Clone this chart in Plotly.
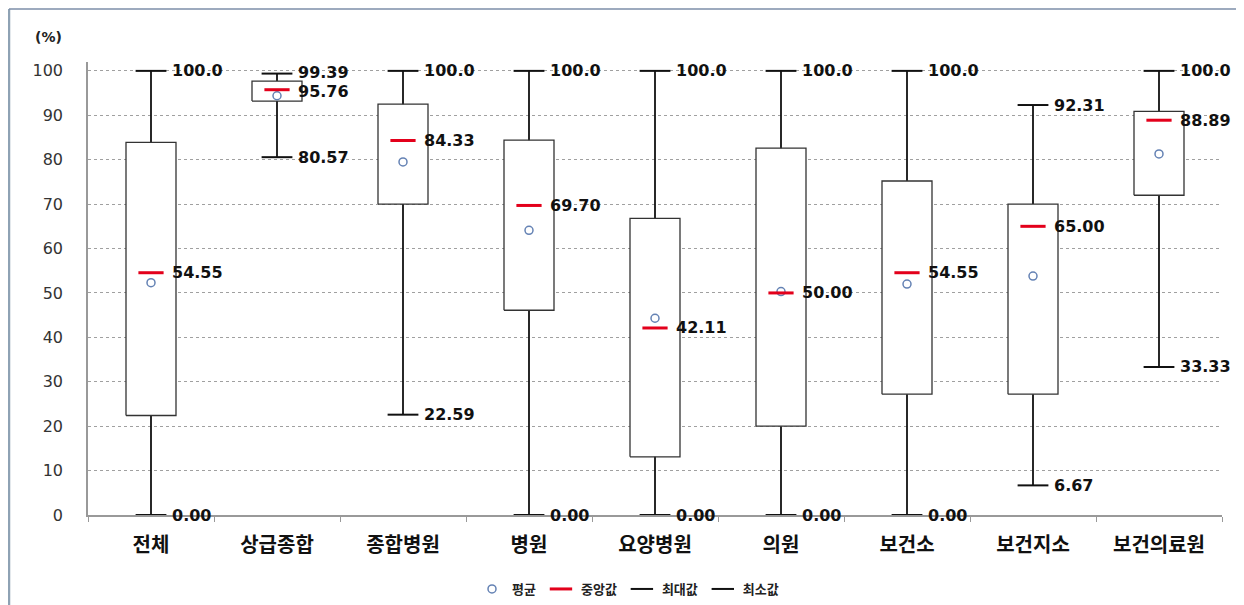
import plotly.graph_objects as go

categories = ["전체", "상급종합", "종합병원", "병원", "요양병원", "의원", "보건소", "보건지소", "보건의료원"]
max_vals = [100.0, 99.39, 100.0, 100.0, 100.0, 100.0, 100.0, 92.31, 100.0]
q3_vals = [83.9, 97.7, 92.5, 84.4, 66.8, 82.6, 75.2, 70.0, 90.9]
median_vals = [54.55, 95.76, 84.33, 69.70, 42.11, 50.00, 54.55, 65.00, 88.89]
mean_vals = [52.3, 94.4, 79.5, 64.1, 44.3, 50.3, 52.0, 53.8, 81.3]
q1_vals = [22.4, 93.2, 70.0, 46.1, 13.1, 20.0, 27.2, 27.2, 72.0]
min_vals = [0.0, 80.57, 22.59, 0.0, 0.0, 0.0, 0.0, 6.67, 33.33]
y_ticks = [0, 10, 20, 30, 40, 50, 60, 70, 80, 90, 100]
legend_names = ["평균", "중앙값", "최대값", "최소값"]

# page body has an 8px margin: figure pixel = reference pixel - 8
OFF = 8
W, H = 1244 - OFF, 605 - OFF
L, T = 88 - OFF, 62 - OFF
R = W - (1222 - OFF)
B = H - (515 - OFF)
PW, PH = W - L - R, H - T - B
n = len(categories)
xs = list(range(n))
half_box = 25 / (PW / n)
px_per_unit = PH / 102


def xp(px):
    return (px - OFF - L) / PW


def yp(py):
    return (H - B - (py - OFF)) / PH


KR = "Noto Sans CJK KR"
NUM = "DejaVu Sans"

fig = go.Figure()

# whiskers
wx, wy = [], []
for i in xs:
    wx += [i, i, None]
    wy += [min_vals[i], max_vals[i], None]
fig.add_trace(go.Scatter(x=wx, y=wy, mode="lines", line=dict(color="#111111", width=1.8),
                         showlegend=False, hoverinfo="skip"))

# boxes
bx, by = [], []
for i in xs:
    bx += [i - half_box, i + half_box, i + half_box, i - half_box, i - half_box, None]
    by += [q1_vals[i], q1_vals[i], q3_vals[i], q3_vals[i], q1_vals[i], None]
fig.add_trace(go.Scatter(x=bx, y=by, mode="lines", fill="toself", fillcolor="white",
                         line=dict(color="#333333", width=1.3), showlegend=False, hoverinfo="skip"))

# caps
fig.add_trace(go.Scatter(x=xs, y=max_vals, mode="markers", name=legend_names[2], legendrank=3,
                         marker=dict(symbol="line-ew", size=22, line=dict(color="#111111", width=2))))
fig.add_trace(go.Scatter(x=xs, y=min_vals, mode="markers", name=legend_names[3], legendrank=4,
                         marker=dict(symbol="line-ew", size=22, line=dict(color="#111111", width=2))))
# mean
fig.add_trace(go.Scatter(x=xs, y=mean_vals, mode="markers", name=legend_names[0], legendrank=1,
                         marker=dict(symbol="circle-open", size=8, color="#6482b4",
                                     line=dict(color="#6482b4", width=1.5))))
# median
fig.add_trace(go.Scatter(x=xs, y=median_vals, mode="markers", name=legend_names[1], legendrank=2,
                         marker=dict(symbol="line-ew", size=18, line=dict(color="#e3001b", width=3))))


def fmt(v):
    return f"{v:.1f}" if v == 100 else f"{v:.2f}"


annotations = []
for i in xs:
    gap_px = (max_vals[i] - median_vals[i]) * px_per_unit
    push = max(0.0, (19 - gap_px) / 2)
    for v, ys in ((max_vals[i], push), (median_vals[i], -push), (min_vals[i], 0)):
        annotations.append(dict(x=i, y=v, xref="x", yref="y", text=fmt(v), showarrow=False,
                                xanchor="left", yanchor="middle", xshift=19, yshift=ys,
                                font=dict(family=NUM, size=16, color="#111111", weight="bold")))
annotations.append(dict(x=xp(48), y=yp(37), xref="paper", yref="paper", text="(%)", showarrow=False,
                        xanchor="center", yanchor="middle",
                        font=dict(family=NUM, size=14, color="#222222", weight="bold")))

shapes = [
    dict(type="line", xref="paper", yref="paper", x0=xp(9), x1=xp(9), y0=yp(9), y1=yp(605),
         line=dict(color="#8ea2b4", width=2.5)),
    dict(type="line", xref="paper", yref="paper", x0=xp(9), x1=xp(1244), y0=yp(9), y1=yp(9),
         line=dict(color="#7d8ea8", width=1.5)),
]

fig.update_layout(
    width=W, height=H,
    margin=dict(l=L, r=R, t=T, b=B, autoexpand=False),
    paper_bgcolor="white", plot_bgcolor="white",
    annotations=annotations, shapes=shapes,
    legend=dict(orientation="h", x=xp(628), xanchor="center", y=yp(589), yanchor="middle",
                font=dict(family=KR, size=13, color="#222222", weight="bold"), itemwidth=30,
                bgcolor="rgba(0,0,0,0)"),
    xaxis=dict(range=[-0.5, n - 0.5], tickvals=xs, ticktext=categories, ticks="",
               showgrid=False, zeroline=False, showline=True, linecolor="#999999", linewidth=1.5,
               tickfont=dict(family=KR, size=20, color="#111111", weight="bold"),
               ticklabelstandoff=11,
               minor=dict(tickvals=[i - 0.5 for i in range(n + 1)], ticks="outside", ticklen=5,
                          tickcolor="#999999", showgrid=False)),
    yaxis=dict(range=[0, 102], tickvals=y_ticks, showgrid=True, gridcolor="#a0a0a0", griddash="dot",
               gridwidth=1, zeroline=False, showline=True, linecolor="#999999", linewidth=1.5,
               tickfont=dict(family=NUM, size=16, color="#333333"), ticklabelstandoff=20),
)

fig.write_html("out.html")
